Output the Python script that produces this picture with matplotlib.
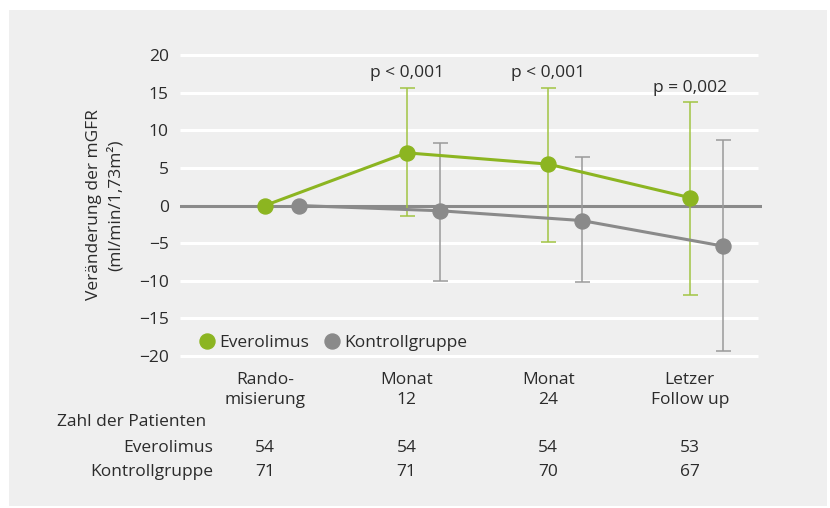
import matplotlib.pyplot as plt
import matplotlib.transforms as mtransforms
from matplotlib.lines import Line2D
from matplotlib.patches import Rectangle

plt.rcParams['font.family'] = ['Open Sans', 'DejaVu Sans']

# Zeitpunkte und Messwerte (Mittelwert, obere/untere Grenze)
zeitpunkte = ['Rando-\nmisierung', 'Monat\n12', 'Monat\n24', 'Letzer\nFollow up']
evero_mw = [0.0, 7.0, 5.5, 1.05]
evero_oben = [0.0, 15.6, 15.6, 13.8]
evero_unten = [0.0, -1.4, -4.8, -11.9]
kontr_mw = [0.0, -0.7, -2.0, -5.4]
kontr_oben = [0.0, 8.35, 6.45, 8.65]
kontr_unten = [0.0, -10.0, -10.2, -19.3]
p_werte = ['p < 0,001', 'p < 0,001', 'p = 0,002']
p_hoehe = [17.6, 17.6, 15.6]
n_evero = [54, 54, 54, 53]
n_kontr = [71, 71, 70, 67]

gruen = '#8cb521'
gruen_hell = '#a2c444'
grau = '#8a8a8a'
grau_hell = '#9a9a9a'
text_farbe = '#2b2b2b'
bg = '#efefef'

fig = plt.figure(figsize=(8.3, 5.08), dpi=100)
fig.patch.set_facecolor('white')
fig.patches.append(Rectangle((9 / 830, 2 / 508), 818 / 830, 496 / 508,
                             transform=fig.transFigure, facecolor=bg,
                             edgecolor='none', zorder=-10))

ax = fig.add_axes([180 / 830, 147.5 / 508, 582 / 830, 310 / 508])
ax.patch.set_alpha(0)
for s in ax.spines.values():
    s.set_visible(False)

ax.set_xlim(-0.60, 3.51)
ax.set_ylim(-20.6, 20.6)

# weiße Hilfslinien, Nulllinie grau
ticks = [20, 15, 10, 5, 0, -5, -10, -15, -20]
for t in ticks:
    if t != 0:
        ax.hlines(t, -0.60, 3.48, color='white', lw=2.2, zorder=0)
ax.axhline(0, color=grau, lw=2.2, zorder=1)

x = list(range(len(zeitpunkte)))
versatz = 0.237
xk = [v + versatz for v in x]

def fehler(mw, oben, unten):
    return [[m - u for m, u in zip(mw, unten)], [o - m for m, o in zip(mw, oben)]]

ax.errorbar(x[1:], evero_mw[1:], yerr=[e[1:] for e in fehler(evero_mw, evero_oben, evero_unten)],
            fmt='none', ecolor=gruen_hell, elinewidth=1.1, capsize=5.4, capthick=1.1, zorder=2)
ax.errorbar(xk[1:], kontr_mw[1:], yerr=[e[1:] for e in fehler(kontr_mw, kontr_oben, kontr_unten)],
            fmt='none', ecolor=grau_hell, elinewidth=1.1, capsize=5.4, capthick=1.1, zorder=2)

ax.plot(xk, kontr_mw, color=grau, lw=2.2, marker='o', ms=10.8, zorder=3)
ax.plot(x, evero_mw, color=gruen, lw=2.2, marker='o', ms=10.8, zorder=4)

for xi, p, h in zip(x[1:], p_werte, p_hoehe):
    ax.text(xi, h, p, ha='center', va='center', fontsize=12.5, color=text_farbe)

ax.set_yticks(ticks)
ax.set_yticklabels([str(t).replace('-', '\u2212') for t in ticks])
ax.set_xticks(x)
ax.set_xticklabels(zeitpunkte, linespacing=1.35)
ax.tick_params(length=0, labelsize=12.5, colors=text_farbe, pad=8)

fig.text(105 / 830, 1 - 205 / 508, 'Veränderung der mGFR\n(ml/min/1,73m²)', rotation=90,
         ha='center', va='center', multialignment='center', fontsize=12.5,
         color=text_farbe, linespacing=1.45)

handles = [Line2D([], [], marker='o', ls='none', color=gruen, ms=10.8),
           Line2D([], [], marker='o', ls='none', color=grau, ms=10.8)]
ax.legend(handles, ['Everolimus', 'Kontrollgruppe'], ncol=2, frameon=False,
          loc='center left', bbox_to_anchor=(0.008, 0.058), handlelength=0.8,
          handletextpad=0.3, columnspacing=0.9, fontsize=12.5,
          labelcolor=text_farbe)

# Patientenzahlen unter der Achse
tr = mtransforms.blended_transform_factory(ax.transData, fig.transFigure)
fig.text(57 / 830, 1 - 422 / 508, 'Zahl der Patienten', ha='left', va='center',
         fontsize=12.5, color=text_farbe)
fig.text(213 / 830, 1 - 448 / 508, 'Everolimus', ha='right', va='center',
         fontsize=12.5, color=text_farbe)
fig.text(213 / 830, 1 - 472 / 508, 'Kontrollgruppe', ha='right', va='center',
         fontsize=12.5, color=text_farbe)
for xi, ne, nk in zip(x, n_evero, n_kontr):
    ax.text(xi, 1 - 448 / 508, str(ne), transform=tr, ha='center', va='center',
            fontsize=12.5, color=text_farbe)
    ax.text(xi, 1 - 472 / 508, str(nk), transform=tr, ha='center', va='center',
            fontsize=12.5, color=text_farbe)

fig.savefig('out.png', dpi=100, facecolor=fig.get_facecolor())
